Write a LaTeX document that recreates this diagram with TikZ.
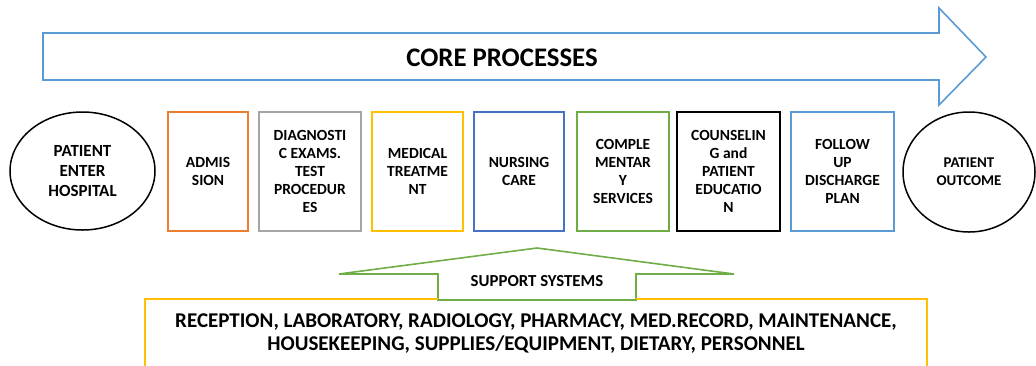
\documentclass[tikz,border=0pt]{standalone}
\usepackage{fontspec}
\setmainfont{Carlito}
\usetikzlibrary{shapes.geometric}
\definecolor{cOrange}{HTML}{ED7D31}
\definecolor{cGray}{HTML}{A5A5A5}
\definecolor{cGold}{HTML}{FFC000}
\definecolor{cBlue}{HTML}{4472C4}
\definecolor{cGreen}{HTML}{70AD47}
\definecolor{cSky}{HTML}{5B9BD5}
\begin{document}
\begin{tikzpicture}[x=1pt,y=-1pt,
  stagebox/.style={draw, line width=1.6pt, rectangle, inner sep=0pt, align=center,
    font=\fontsize{15.5}{18}\selectfont\bfseries},
  endpoint/.style={draw, line width=1.5pt, ellipse, inner sep=0pt, align=center},
  flowarrow/.style={draw=cSky, line width=1.6pt, line join=miter},
  supportarrow/.style={draw=cGreen, line width=1.6pt, line join=miter}]
\useasboundingbox (0,0) rectangle (1036,365);

% core process arrow
\draw[flowarrow] (43,33) -- (939,33) -- (939,8) -- (986,57) -- (939,105) -- (939,80) -- (43,80) -- cycle;
\node[font=\fontsize{26.8}{30}\selectfont\bfseries] (core) at (502,58) {CORE PROCESSES};

% entry and exit
\node[endpoint, minimum width=145pt, minimum height=118pt,
  font=\fontsize{17}{20}\selectfont\bfseries] (enter) at (82.5,171) {PATIENT\\ENTER\\HOSPITAL};
\node[endpoint, minimum width=132pt, minimum height=120pt,
  font=\fontsize{14.9}{18}\selectfont\bfseries] (outcome) at (969,172) {PATIENT\\OUTCOME};

% process stages
\node[stagebox, draw=cOrange, minimum width=80pt, minimum height=119pt] (admission) at (208,171.5) {ADMIS\\SION};
\node[stagebox, draw=cGray, minimum width=102pt, minimum height=119pt] (diagnostic) at (310,171.5) {DIAGNOSTI\\C EXAMS.\\TEST\\PROCEDUR\\ES};
\node[stagebox, draw=cGold, minimum width=91pt, minimum height=119pt] (medical) at (417.5,171.5) {MEDICAL\\TREATME\\NT};
\node[stagebox, draw=cBlue, minimum width=90pt, minimum height=119pt] (nursing) at (519,171.5) {NURSING\\CARE};
\node[stagebox, draw=cGreen, minimum width=92pt, minimum height=119pt] (complementary) at (623,171.5) {COMPLE\\MENTAR\\Y\\SERVICES};
\node[stagebox, draw=black, minimum width=103pt, minimum height=119pt] (counseling) at (728.5,171.5) {COUNSELIN\\G and\\PATIENT\\EDUCATIO\\N};
\node[stagebox, draw=cSky, minimum width=103pt, minimum height=119pt] (followup) at (842.5,171.5) {FOLLOW\\UP\\DISCHARGE\\PLAN};

% support systems
\draw[supportarrow] (339,274) -- (537,248) -- (734,274) -- (636,274) -- (636,300) -- (438,300) -- (438,274) -- cycle;
\node[font=\fontsize{16.8}{18}\selectfont\bfseries] (support) at (537,281) {SUPPORT SYSTEMS};
\draw[draw=cGold, line width=1.6pt] (145,366) -- (145,299) -- (438,299);
\draw[draw=cGold, line width=1.6pt] (636,299) -- (927,299) -- (927,366);
\node[align=center, font=\fontsize{21}{23}\selectfont\bfseries] (services) at (536,333.5)
  {RECEPTION, LABORATORY, RADIOLOGY, PHARMACY, MED.RECORD, MAINTENANCE,\\HOUSEKEEPING, SUPPLIES/EQUIPMENT, DIETARY, PERSONNEL};
\end{tikzpicture}
\end{document}
